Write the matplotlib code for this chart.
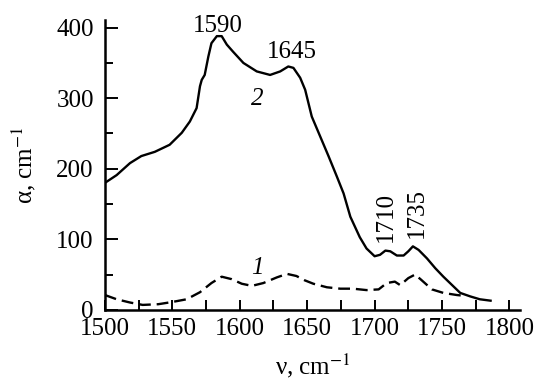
import matplotlib
matplotlib.use("Agg")
import matplotlib.pyplot as plt
from matplotlib.ticker import MultipleLocator

# ── Data ─────────────────────────────────────────────────────────────────────
# curve 2 (solid)
nu_2 = [1500, 1508.7, 1518.6, 1527, 1537, 1548, 1557, 1563, 1568, 1570.5,
        1571.8, 1574, 1576.7, 1579, 1583, 1586.6, 1590.4, 1595, 1602.7,
        1612.6, 1622.5, 1630, 1636, 1639.8, 1644.8, 1648.5, 1653.4, 1659.6,
        1665.8, 1672, 1677, 1682, 1689, 1694, 1700, 1704, 1708, 1711.6,
        1716.5, 1721.5, 1725, 1728.4, 1732.6, 1738.8, 1745, 1751, 1758.6,
        1763.5, 1771, 1778, 1786]
alpha_2 = [180, 191, 208, 218, 224, 234, 251, 267, 286, 317,
           326, 333, 359, 378, 388, 388, 376, 366, 350,
           338, 333, 338, 345, 343, 329, 312, 274, 246,
           218, 189, 165, 132, 103, 87, 76, 78, 84, 83,
           77, 77, 83, 90, 85, 73, 59, 47, 33,
           24, 19, 15, 13]

# curve 1 (dashed)
nu_1 = [1500, 1508.7, 1518.6, 1528, 1539.6, 1549.5, 1560.6, 1570.5, 1579,
        1586.6, 1594, 1601.5, 1609, 1617.5, 1627.5, 1635, 1642, 1648,
        1654.6, 1664.6, 1674.5, 1684, 1694, 1703, 1709, 1715, 1719, 1725,
        1730, 1734, 1742.5, 1751, 1761, 1766]
alpha_1 = [21, 15, 10.4, 7, 8, 11, 15, 25, 38,
           47, 43.5, 37, 34, 38, 46, 51, 48, 42,
           37, 32, 30, 30, 28, 29, 38, 40, 35, 45,
           50, 43.5, 29, 24, 21, 20]

peak_labels = ["1590", "1645", "1710", "1735"]

plt.rcParams["font.family"] = ["Liberation Serif", "DejaVu Serif"]
plt.rcParams["mathtext.fontset"] = "stix"

fig = plt.figure(figsize=(5.38, 3.83), dpi=100)
ax = fig.add_axes([0.195, 0.191, 0.772, 0.757])

ax.plot(nu_2, alpha_2, color="black", linewidth=1.7)
ax.plot(nu_1, alpha_1, color="black", linewidth=1.7, linestyle=(0, (5, 2.5)))

ax.set_xlim(1500, 1808)
ax.set_ylim(0, 411)

ax.xaxis.set_major_locator(MultipleLocator(50))
ax.xaxis.set_minor_locator(MultipleLocator(25))
ax.yaxis.set_major_locator(MultipleLocator(100))
ax.yaxis.set_minor_locator(MultipleLocator(50))
ax.tick_params(which="both", direction="in", width=1.4, labelsize=18)
ax.tick_params(axis="y", which="major", length=9, pad=8)
ax.tick_params(axis="y", which="minor", length=6)
ax.tick_params(axis="x", which="both", length=7, pad=6)

for side in ("top", "right"):
    ax.spines[side].set_visible(False)
for side in ("left", "bottom"):
    ax.spines[side].set_linewidth(1.8)

ax.set_xlabel(r"ν, cm$^{-1}$", fontsize=18)
ax.set_ylabel(r"α, cm$^{-1}$", fontsize=18)
ax.xaxis.set_label_coords(0.5, -0.145)
ax.yaxis.set_label_coords(-0.161, 0.5)

# ── Annotations ──────────────────────────────────────────────────────────────
ax.text(1584, 394, peak_labels[0], ha="center", va="baseline", fontsize=18,
        clip_on=False)
ax.text(1638.6, 357, peak_labels[1], ha="center", va="baseline", fontsize=18)
ax.text(1708.5, 131, peak_labels[2], ha="center", va="center", fontsize=18,
        rotation=90)
ax.text(1731.5, 137, peak_labels[3], ha="center", va="center", fontsize=18,
        rotation=90)
ax.text(1612.6, 291, "2", ha="center", va="baseline", fontsize=18,
        style="italic")
ax.text(1613, 51, "1", ha="center", va="baseline", fontsize=18,
        style="italic")

fig.savefig("out.png", dpi=100)
